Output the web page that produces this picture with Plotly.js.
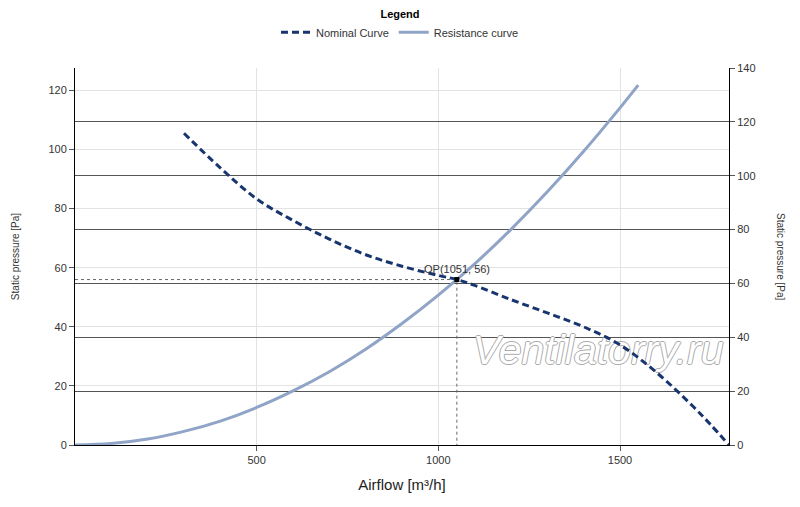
<!DOCTYPE html>
<html>
<head>
<meta charset="utf-8">
<script src="https://cdn.plot.ly/plotly-3.0.1.min.js"></script>
<style>html,body{margin:0;padding:0;background:#fff;}#chart{width:800px;height:507px;}</style>
</head>
<body>
<div id="chart"></div>
<script>
// Nominal fan curve (airflow m³/h, static pressure Pa)
var nominalX = [300, 400, 500, 600, 700, 800, 900, 1000, 1051, 1100, 1200, 1300, 1400, 1500, 1600, 1700, 1750, 1800];
var nominalY = [105.5, 93.8, 83.3, 76.0, 69.7, 64.4, 60.5, 57.4, 56.0, 54.0, 49.2, 44.7, 40.0, 33.9, 24.6, 13.2, 6.8, 0];
// Resistance curve
var resistX = [0, 100, 200, 300, 400, 500, 600, 700, 800, 900, 1000, 1100, 1200, 1300, 1400, 1500, 1550];
var resistY = [0, 0.5, 2.0, 4.6, 8.1, 12.7, 18.3, 24.8, 32.4, 41.1, 50.7, 61.3, 73.0, 85.7, 99.4, 114.1, 121.8];
// Operating point
var opX = [1051];
var opY = [56];
var xTicks = [500, 1000, 1500];
var watermarkX = [1440];
var watermarkY = [31.0];

var font = 'Liberation Sans, Arial, sans-serif';

var traces = [
  {
    x: watermarkX, y: watermarkY, mode: 'text', text: ['Ventilatorry.ru'],
    textfont: {family: font, size: 41, color: '#ffffff', style: 'italic',
      shadow: '1px 0 0 #aaaaaa, -1px 0 0 #aaaaaa, 0 1px 0 #aaaaaa, 0 -1px 0 #aaaaaa'},
    showlegend: false, hoverinfo: 'skip', cliponaxis: false
  },
  {
    x: [0, opX[0], opX[0]], y: [opY[0], opY[0], 0], mode: 'lines',
    line: {color: '#666666', width: 1, dash: 'dot'}, showlegend: false, hoverinfo: 'skip'
  },
  {
    x: nominalX, y: nominalY, mode: 'lines', name: 'Nominal Curve',
    line: {color: '#17356e', width: 3, dash: '7px,4px', shape: 'spline'}
  },
  {
    x: resistX, y: resistY, mode: 'lines', name: 'Resistance curve',
    line: {color: '#8fa4c6', width: 3, shape: 'spline'}
  },
  {
    x: opX, y: opY, mode: 'markers', marker: {symbol: 'square', size: 5, color: '#000'},
    showlegend: false, hoverinfo: 'skip'
  },
  {
    x: [0], y: [0], yaxis: 'y2', mode: 'markers', marker: {opacity: 0},
    showlegend: false, hoverinfo: 'skip'
  }
];

var layout = {
  width: 800, height: 507,
  margin: {l: 75, r: 71, t: 68, b: 62, autoexpand: false},
  paper_bgcolor: '#ffffff', plot_bgcolor: '#ffffff',
  font: {family: font, size: 11, color: '#333333'},
  showlegend: true,
  legend: {
    orientation: 'h', x: 0.5, xanchor: 'center', y: 0.993, yanchor: 'top',
    xref: 'container', yref: 'container',
    title: {text: '<b>Legend</b>', side: 'top center', font: {size: 11, color: '#000'}},
    font: {size: 11, color: '#333'}, tracegroupgap: 0, bgcolor: 'rgba(0,0,0,0)'
  },
  xaxis: {
    range: [0, 1800], tickvals: xTicks, ticks: 'outside', ticklen: 5, tickcolor: '#555',
    showgrid: true, gridcolor: '#e3e3e3', zeroline: false,
    showline: true, linecolor: '#000', linewidth: 1,
    title: {text: 'Airflow [m³/h]', font: {size: 15, color: '#222'}, standoff: 14},
    tickfont: {size: 11, color: '#333'}
  },
  yaxis: {
    range: [0, 127.6], dtick: 20, ticks: 'outside', ticklen: 5, tickcolor: '#555',
    showgrid: true, gridcolor: '#e3e3e3', zeroline: false,
    showline: true, linecolor: '#000', linewidth: 1,
    title: {text: 'Static pressure [Pa]', font: {size: 10, color: '#333'}, standoff: 26},
    tickfont: {size: 11, color: '#333'}
  },
  yaxis2: {
    overlaying: 'y', side: 'right', range: [0, 140], dtick: 20,
    ticks: 'outside', ticklen: 5, tickcolor: '#555',
    showgrid: true, gridcolor: '#555555', zeroline: false,
    showline: true, linecolor: '#000', linewidth: 1,
    tickfont: {size: 11, color: '#333'}
  },
  annotations: [
    {x: opX[0], y: opY[0], xref: 'x', yref: 'y', text: 'OP(' + opX[0] + ', ' + opY[0] + ')',
     showarrow: false, yshift: 11, font: {size: 11, color: '#333'}},
    {x: 1, xref: 'paper', xshift: 59, y: 0.5, yref: 'paper', text: 'Static pressure [Pa]',
     textangle: 90, showarrow: false, font: {size: 10, color: '#333'}}
  ]
};

Plotly.newPlot('chart', traces, layout, {displayModeBar: false, staticPlot: true});
</script>
</body>
</html>
